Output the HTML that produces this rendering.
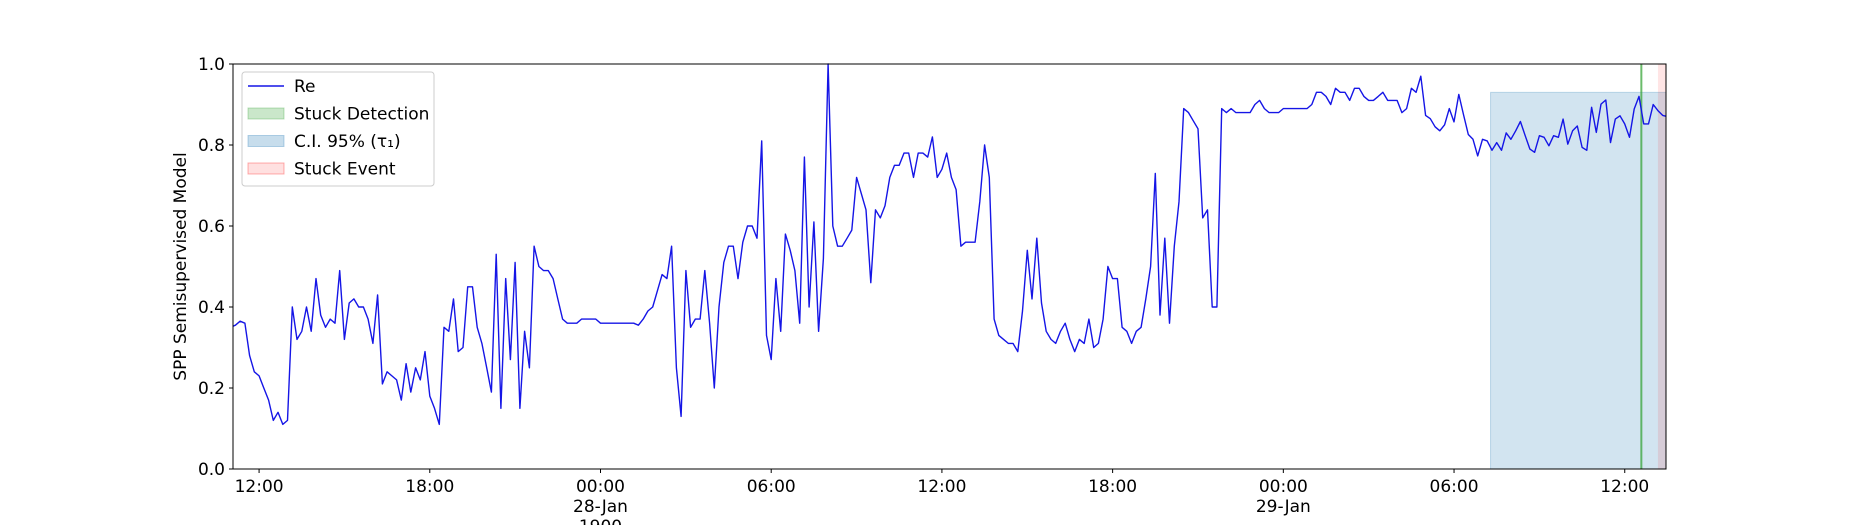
<!DOCTYPE html>
<html><head><meta charset="utf-8"><style>
html,body{margin:0;padding:0;background:#fff;}
svg{display:block;font-family:"DejaVu Sans","Liberation Sans",sans-serif;}
</style></head><body>
<svg id="chart" width="1850" height="525" viewBox="0 0 1850 525"></svg>
<script>
const values = [0.35,0.355,0.365,0.36,0.28,0.24,0.23,0.2,0.17,0.12,0.14,0.11,0.12,0.40,0.32,0.34,0.40,0.34,0.47,0.38,0.35,0.37,0.36,0.49,0.32,0.41,0.42,0.40,0.40,0.37,0.31,0.43,0.21,0.24,0.23,0.22,0.17,0.26,0.19,0.25,0.22,0.29,0.18,0.15,0.11,0.35,0.34,0.42,0.29,0.30,0.45,0.45,0.35,0.31,0.25,0.19,0.53,0.15,0.47,0.27,0.51,0.15,0.34,0.25,0.55,0.50,0.49,0.49,0.47,0.42,0.37,0.36,0.36,0.36,0.37,0.37,0.37,0.37,0.36,0.36,
0.36,0.36,0.36,0.36,0.36,0.36,0.355,0.37,0.39,0.40,0.44,0.48,0.47,0.55,0.25,0.13,0.49,0.35,0.37,0.37,0.49,0.36,0.20,0.40,0.51,0.55,0.55,0.47,0.56,0.60,0.60,0.57,0.81,0.33,0.27,0.47,0.34,0.58,0.54,0.49,0.36,0.77,0.40,0.61,0.34,0.52,1.0,0.60,0.55,0.55,0.57,0.59,0.72,0.68,0.64,0.46,0.64,0.62,0.65,0.72,0.75,0.75,0.78,0.78,0.72,0.78,0.78,0.77,0.82,0.72,0.74,0.78,0.72,0.69,0.55,0.56,0.56,0.56,0.66,0.80,0.72,0.37,0.33,0.32,0.31,0.31,0.29,
0.39,0.54,0.42,0.57,0.41,0.34,0.32,0.31,0.34,0.36,0.32,0.29,0.32,0.31,0.37,0.30,0.31,0.37,0.50,0.47,0.47,0.35,0.34,0.31,0.34,0.35,0.42,0.50,0.73,0.38,0.57,0.36,0.55,0.66,0.89,0.88,0.86,0.84,0.62,0.64,0.40,0.40,0.89,0.88,0.89,0.88,0.88,0.88,0.88,0.90,0.91,0.89,0.88,0.88,0.88,0.89,0.89,0.89,0.89,0.89,0.89,0.90,0.93,0.93,0.92,0.90,0.94,0.93,0.93,0.91,0.94,0.94,0.92,0.91,0.91,0.92,0.93,0.91,0.91,0.91,0.88,0.89,0.94,0.93,0.97,
0.873,0.865,0.845,0.835,0.85,0.89,0.857,0.925,0.875,0.826,0.814,0.773,0.814,0.81,0.787,0.806,0.787,0.83,0.814,0.835,0.858,0.823,0.79,0.782,0.823,0.819,0.798,0.823,0.819,0.864,0.802,0.835,0.847,0.794,0.787,0.893,0.831,0.901,0.911,0.806,0.864,0.872,0.852,0.819,0.889,0.92,0.852,0.852,0.90,0.885,0.873,0.87];
const startMinute = -60;      // minutes relative to 27-Jan 12:00
const stepMinutes = 10;
const xTickMinutes = [0,360,720,1080,1440,1800,2160,2520,2880];
const xTickLabels = ["12:00","18:00","00:00\n28-Jan\n1900","06:00","12:00","18:00","00:00\n29-Jan","06:00","12:00"];
const yTicks = [0,0.2,0.4,0.6,0.8,1.0];
const ciStartMinute = [2597];
const ciUpper = [0.93];
const detectionMinute = [2915];
const stuckStartMinute = [2950];
const domainMin = [-55, 2967];

const svg = document.getElementById('chart');
const NS = 'http://www.w3.org/2000/svg';
const L = 233, R = 1666, T = 64, B = 469;
function xs(m){ return L + (m - domainMin[0]) / (domainMin[1] - domainMin[0]) * (R - L); }
function ys(v){ return B - v * (B - T); }
function mk(tag, attrs, parent){ const e = document.createElementNS(NS, tag); for (const k in attrs) e.setAttribute(k, attrs[k]); (parent||svg).appendChild(e); return e; }

const clip = mk('clipPath', {id: 'plotclip'});
mk('rect', {x: L, y: T - 2, width: R - L, height: B - T + 4}, clip);

const ci = mk('rect', {x: xs(ciStartMinute[0]), y: ys(ciUpper[0]), width: R - xs(ciStartMinute[0]), height: ys(0) - ys(ciUpper[0]), fill: '#1f77b4', 'fill-opacity': 0.2, stroke: '#1f77b4', 'stroke-opacity': 0.25});


const se = mk('rect', {x: xs(stuckStartMinute[0]), y: T, width: R - xs(stuckStartMinute[0]), height: B - T, fill: '#ff0000', 'fill-opacity': 0.1});


const dl = mk('line', {x1: xs(detectionMinute[0]), x2: xs(detectionMinute[0]), y1: T, y2: B, stroke: '#2ca02c', 'stroke-opacity': 0.7, 'stroke-width': 2});



let d = '';
values.forEach((v, i) => { const m = startMinute + i * stepMinutes; d += (i ? 'L' : 'M') + xs(m).toFixed(1) + ',' + ys(v).toFixed(1); });
const line = mk('path', {d: d, fill: 'none', stroke: '#1515e6', 'stroke-width': 1.4, 'stroke-linejoin': 'round', 'clip-path': 'url(#plotclip)'});



const frame = mk('rect', {x: L, y: T, width: R - L, height: B - T, fill: 'none', stroke: '#000', 'stroke-width': 1});



yTicks.forEach(v => {
  const y = ys(v);
  const t = mk('line', {x1: L - 4, x2: L, y1: y, y2: y, stroke: '#000'});
  
  
  const lb = mk('text', {x: L - 8, y: y + 6, 'text-anchor': 'end', 'font-size': 17, fill: '#000'});
  lb.textContent = v.toFixed(1);
  
  
});
xTickMinutes.forEach((m, i) => {
  const x = xs(m);
  const t = mk('line', {x1: x, x2: x, y1: B, y2: B + 4, stroke: '#000'});
  
  
  xTickLabels[i].split('\n').forEach((s, j) => {
    const lb = mk('text', {x: x, y: B + 23 + j * 20, 'text-anchor': 'middle', 'font-size': 17, fill: '#000'});
    lb.textContent = s;
    
    
  });
});
const yt = mk('text', {x: 0, y: 0, transform: 'translate(186,' + ((T + B) / 2) + ') rotate(-90)', 'text-anchor': 'middle', 'font-size': 17, fill: '#000'});
yt.textContent = 'SPP Semisupervised Model';



const lg = mk('g', {});


mk('rect', {x: 242, y: 72, width: 192, height: 114, rx: 3, fill: '#fff', 'fill-opacity': 0.8, stroke: '#ccc'}, lg);
const entries = [['Re','line','#1515e6'],['Stuck Detection','patch','#2ca02c'],['C.I. 95% (τ₁)','patch','#1f77b4'],['Stuck Event','patch','#ff0000']];
entries.forEach((e, i) => {
  const cy = 86 + i * 27.5;
  const g = mk('g', {}, lg);
  
  
  if (e[1] === 'line') mk('line', {x1: 248, x2: 284, y1: cy, y2: cy, stroke: e[2], 'stroke-width': 1.4}, g);
  else mk('rect', {x: 248, y: cy - 5.5, width: 36, height: 11, fill: e[2], 'fill-opacity': e[2] === '#ff0000' ? 0.12 : 0.25, stroke: e[2], 'stroke-opacity': 0.3}, g);
  const tx = mk('text', {x: 294, y: cy + 6, 'font-size': 17, fill: '#000'}, g);
  tx.textContent = e[0];
});
</script>
</body></html>
